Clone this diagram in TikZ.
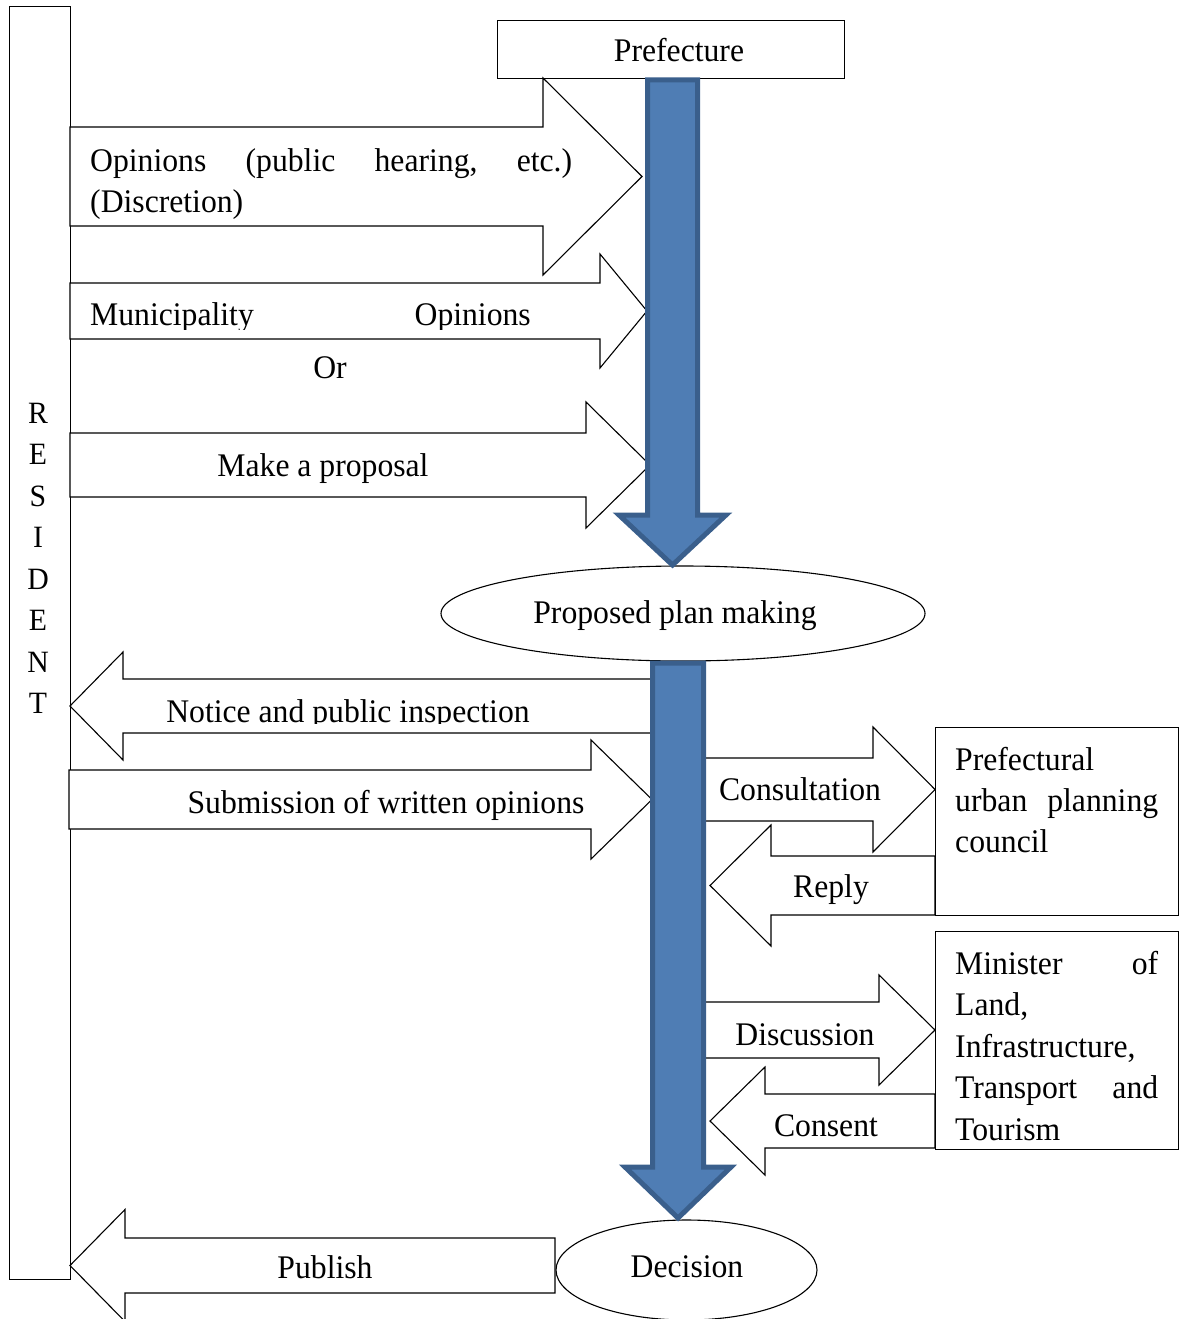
\documentclass[tikz,border=0pt]{standalone}
\usepackage{fontspec}
\setmainfont{Liberation Serif}[FakeStretch=0.96]
\usetikzlibrary{shapes.geometric}
\definecolor{flowblue}{HTML}{4F7DB4}
\definecolor{flowedge}{HTML}{3A5F8C}
\newcommand\diagfont{\fontsize{33}{41.5}\selectfont}
\newcommand\letterfont{\fontsize{31}{41.5}\selectfont}
% block arrow: body start x, head base x, tip x, centre y, body half height, head half height
\newcommand\blockarrow[6]{%
  \path[blockarrow] (#1,{#4-#5}) -- (#2,{#4-#5}) -- (#2,{#4-#6}) -- (#3,#4)
    -- (#2,{#4+#6}) -- (#2,{#4+#5}) -- (#1,{#4+#5}) -- cycle;}
\begin{document}
\begin{tikzpicture}[x=1pt,y=-1pt,
  blockarrow/.style={draw=black,line width=1.1pt,fill=white,line join=miter},
  flowarrow/.style={draw=flowedge,line width=5pt,fill=flowblue,line join=miter},
  frame/.style={draw=black,line width=1.1pt,fill=white,inner sep=0pt,anchor=north west},
  oval/.style={draw=black,line width=1.1pt,fill=white,ellipse,inner sep=0pt},
  lbl/.style={inner sep=0pt,anchor=base,font=\diagfont},
]
\useasboundingbox (0,0) rectangle (1185,1319);

% side bar and top box
\node[frame,minimum width=61pt,minimum height=1273pt] (resident) at (9,6) {};
\foreach \ch [count=\i] in {R,E,S,I,D,E,N,T}
  \node[lbl,font=\letterfont] (res\i) at (38,{423+41.5*(\i-1)}) {\ch};
\node[frame,minimum width=347pt,minimum height=58pt] (prefbox) at (497,20) {};
\node[lbl] (preflabel) at (679,62) {Prefecture};

% stages
\node[oval,minimum width=484pt,minimum height=95pt] (plan) at (683,613.5) {};
\node[oval,minimum width=261pt,minimum height=100pt] (decision) at (686.5,1270) {};

% white block arrows
\blockarrow{70}{543}{642}{176.5}{49.5}{98.5}
\blockarrow{70}{600}{647}{311}{28}{57}
\blockarrow{70}{586}{650}{465}{32}{63}
\blockarrow{655}{123}{70}{706}{27}{54}
\blockarrow{69}{591}{652}{799.5}{29.5}{59.5}
\blockarrow{702}{873}{935}{789.5}{31.5}{62.5}
\blockarrow{935}{771}{710}{885.5}{29.5}{60.5}
\blockarrow{702}{879}{935}{1030}{28}{55}
\blockarrow{935}{765}{710}{1121}{27}{54}
\blockarrow{555}{125}{70}{1265.5}{27.5}{56}

% boxes on the right
\node[frame,minimum width=243pt,minimum height=188pt] (council) at (935,727) {};
\node[frame,minimum width=243pt,minimum height=218pt] (minister) at (935,931) {};

% main flow
\path[flowarrow] (647.5,80) -- (697.5,80) -- (697.5,515) -- (726,515)
  -- (672.5,565) -- (619,515) -- (647.5,515) -- cycle;
\path[flowarrow] (652.5,663) -- (703.5,663) -- (703.5,1167) -- (731,1167)
  -- (678,1218) -- (625,1167) -- (652.5,1167) -- cycle;

% labels
\node[lbl,anchor=base west] (hearing) at (90,171)
  {\hbox to 482pt{Opinions\hfill(public\hfill hearing,\hfill etc.)}};
\node[lbl,anchor=base west] (discretion) at (90,212) {(Discretion)};
\begin{scope}
  \clip (72,260) rectangle (640,329);
  \node[lbl,anchor=base west] (municipality) at (90,325) {Municipality};
  \node[lbl,anchor=base east] (muniopinions) at (531,325) {Opinions};
\end{scope}
\node[lbl] (or) at (330,378) {Or};
\node[lbl] (proposal) at (323,476) {Make a proposal};
\begin{scope}
  \clip (72,690) rectangle (640,723);
  \node[lbl] (notice) at (348,722) {Notice and public inspection};
\end{scope}
\node[lbl] (submission) at (386,813) {Submission of written opinions};
\node[lbl] (planlabel) at (675,623) {Proposed plan making};
\node[lbl] (consultation) at (800,800) {Consultation};
\node[lbl] (reply) at (831,897) {Reply};
\node[lbl] (discussion) at (805,1045) {Discussion};
\node[lbl] (consent) at (826,1136) {Consent};
\node[lbl] (publish) at (325,1278) {Publish};
\node[lbl] (decisionlabel) at (687,1277) {Decision};

\node[lbl,anchor=base west] (council1) at (955,770) {Prefectural};
\node[lbl,anchor=base west] (council2) at (955,811) {\hbox to 203pt{urban\hfill planning}};
\node[lbl,anchor=base west] (council3) at (955,852) {council};

\node[lbl,anchor=base west] (minister1) at (955,974) {\hbox to 203pt{Minister\hfill of}};
\node[lbl,anchor=base west] (minister2) at (955,1015.5) {Land,};
\node[lbl,anchor=base west] (minister3) at (955,1057) {Infrastructure,};
\node[lbl,anchor=base west] (minister4) at (955,1098.5) {\hbox to 203pt{Transport\hfill and}};
\node[lbl,anchor=base west] (minister5) at (955,1140) {Tourism};
\end{tikzpicture}
\end{document}
